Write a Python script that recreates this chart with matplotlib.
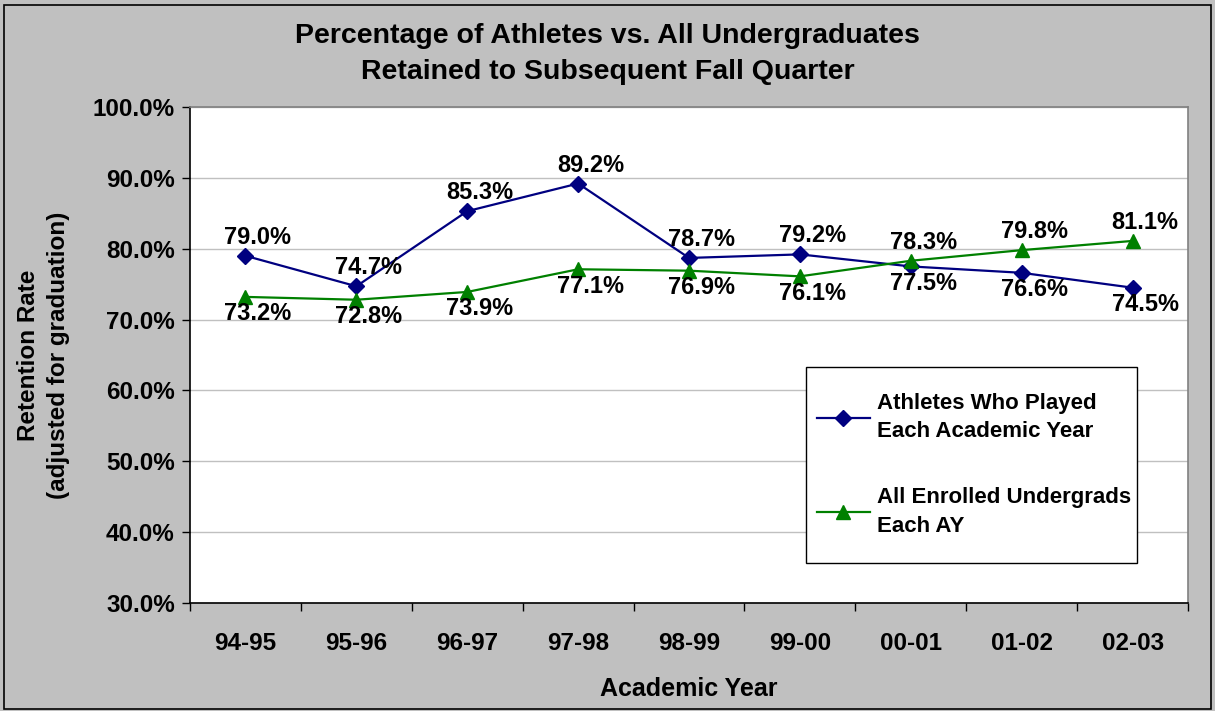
import matplotlib.pyplot as plt
from matplotlib.ticker import FixedLocator, FuncFormatter

years = ['94-95', '95-96', '96-97', '97-98', '98-99', '99-00', '00-01', '01-02', '02-03']
athletes = [79.0, 74.7, 85.3, 89.2, 78.7, 79.2, 77.5, 76.6, 74.5]
undergrads = [73.2, 72.8, 73.9, 77.1, 76.9, 76.1, 78.3, 79.8, 81.1]


def main():
    plt.rcParams['font.family'] = ['Liberation Sans', 'DejaVu Sans']
    plt.rcParams['font.weight'] = 'bold'

    fig = plt.figure(figsize=(12.15, 7.11), dpi=100, facecolor='#C0C0C0')
    ax = fig.add_axes([0.1564, 0.1519, 0.8214, 0.6976])
    ax.set_facecolor('white')

    x = list(range(len(years)))
    ax.plot(x, athletes, color='#000080', marker='D', markersize=8, lw=1.6,
            label='Athletes Who Played\nEach Academic Year', zorder=3)
    ax.plot(x, undergrads, color='#008000', marker='^', markersize=10, lw=1.6,
            label='All Enrolled Undergrads\nEach AY', zorder=3)

    # data labels: the higher series gets its label above, the lower one below
    for i in x:
        for vals, other in ((athletes, undergrads), (undergrads, athletes)):
            above = vals[i] >= other[i]
            ax.annotate(f'{vals[i]:.1f}%', (i, vals[i]),
                        xytext=(9, 5 if above else -4), textcoords='offset points',
                        ha='center', va='bottom' if above else 'top',
                        fontsize=17, fontweight='bold', zorder=4)

    ax.set_xlim(-0.5, len(years) - 0.5)
    ax.set_ylim(30, 100)
    ax.set_xticks(x)
    ax.set_xticklabels(years)
    ax.xaxis.set_minor_locator(FixedLocator([i - 0.5 for i in range(len(years) + 1)]))
    ax.tick_params(axis='x', which='major', length=0, pad=21, labelsize=17.5)
    ax.tick_params(axis='x', which='minor', length=6, width=1, color='black')
    ax.set_yticks(range(30, 101, 10))
    ax.yaxis.set_major_formatter(FuncFormatter(lambda v, p: f'{v:.1f}%'))
    ax.tick_params(axis='y', length=6, width=1, labelsize=17.5, pad=5)
    ax.grid(axis='y', color='#C0C0C0', lw=1)
    ax.set_axisbelow(True)

    for side in ('left', 'bottom'):
        ax.spines[side].set_color('black')
        ax.spines[side].set_linewidth(1.2)
    for side in ('top', 'right'):
        ax.spines[side].set_color('#808080')
        ax.spines[side].set_linewidth(1.2)

    ax.set_xlabel('Academic Year', fontsize=18, fontweight='bold', labelpad=16)
    ax.set_ylabel('Retention Rate\n(adjusted for graduation)', fontsize=17.5,
                  fontweight='bold', labelpad=16, linespacing=1.4)
    fig.suptitle('Percentage of Athletes vs. All Undergraduates\nRetained to Subsequent Fall Quarter',
                 fontsize=20.5, fontweight='bold', y=0.967, linespacing=1.5)

    # legend box drawn by hand so its padding can match the original
    ax.add_patch(plt.Rectangle((0.617, 0.0806), 0.332, 0.395, transform=ax.transAxes,
                               facecolor='white', edgecolor='black', lw=1, zorder=5))
    leg = ax.legend(loc='upper left', bbox_to_anchor=(0.628, 0.424),
                    fontsize=16, frameon=False,
                    labelspacing=2.05, handlelength=2.4, handletextpad=0.3,
                    borderpad=0, borderaxespad=0)
    leg.set_zorder(6)
    for t in leg.get_texts():
        t.set_linespacing(1.45)

    # outer border of the chart
    fig.add_artist(plt.Rectangle((0.003, 0.003), 0.994, 0.99, transform=fig.transFigure,
                                 fill=False, edgecolor='black', lw=1.2))

    fig.savefig('out.png', dpi=100, facecolor=fig.get_facecolor())


if __name__ == "__main__":
    main()
